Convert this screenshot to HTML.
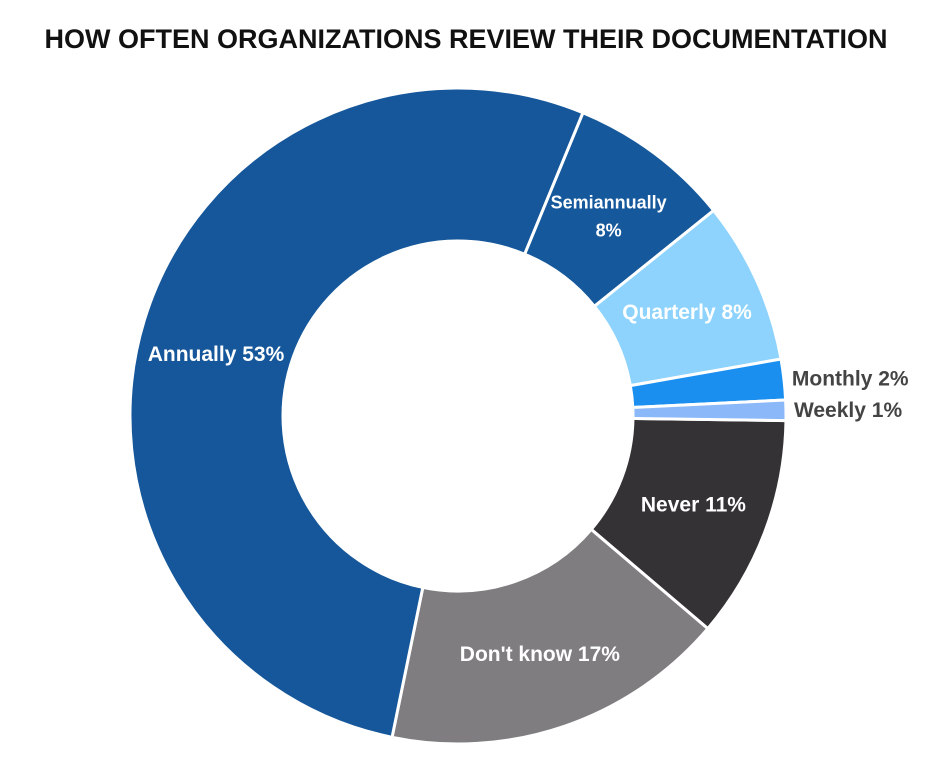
<!DOCTYPE html>
<html><head><meta charset="utf-8"><style>
body{margin:0;background:#fff;width:926px;height:766px;overflow:hidden;font-family:"Liberation Sans",sans-serif}
</style></head><body>
<svg width="926" height="766">
<text x="466" y="48" text-anchor="middle" font-size="27" font-weight="bold" fill="#111">HOW OFTEN ORGANIZATIONS REVIEW THEIR DOCUMENTATION</text>
<g id="slices"></g>
<g id="labels"></g>
</svg>
<script>
const categories=["Never","Don't know","Annually","Semiannually","Quarterly","Monthly","Weekly"];
const values=[11,17,53,8,8,2,1];
const colors=["#343235","#7f7d80","#15579a","#15589b","#8dd3fd","#1a8ff0","#8ab8f8"];
const cx=458,cy=416,R=328,r=175,start=0.8*Math.PI/180;
const ns="http://www.w3.org/2000/svg";
const g=document.getElementById('slices'),lg=document.getElementById('labels');
const total=values.reduce((a,b)=>a+b,0);
let a0=start;
function pt(rad,a){return [cx+rad*Math.cos(a),cy+rad*Math.sin(a)];}
values.forEach((v,i)=>{
 const a1=a0+v/total*2*Math.PI;
 const p1=pt(R,a0),p2=pt(R,a1),p3=pt(r,a1),p4=pt(r,a0);
 const large=(a1-a0)>Math.PI?1:0;
 const p=document.createElementNS(ns,'path');
 p.setAttribute('d',`M${p1}A${R},${R} 0 ${large} 1 ${p2}L${p3}A${r},${r} 0 ${large} 0 ${p4}Z`);
 p.setAttribute('fill',colors[i]);p.setAttribute('stroke','#fff');p.setAttribute('stroke-width','3');
 
 
 g.appendChild(p);
 const mid=(a0+a1)/2;
 const outside=v<5;
 let lines=[categories[i]+' '+v+'%'];
 let [x,y]=pt(outside?R+8:(R+r)/2,mid);
 if(categories[i]==="Semiannually"){lines=["Semiannually",v+'%'];}
 if(categories[i]==="Annually"){x=216;y=354;}
 const t=document.createElementNS(ns,'text');
 t.setAttribute('x',x);t.setAttribute('font-size','21');t.setAttribute('font-weight','bold');
 t.setAttribute('fill',outside?'#444':'#fff');
 t.setAttribute('text-anchor',outside?'start':'middle');
 
 
 if(lines.length===1){t.setAttribute('y',y+7);t.textContent=lines[0];}
 else{t.setAttribute('font-size','18');lines.forEach((s,k)=>{const ts=document.createElementNS(ns,'tspan');ts.setAttribute('x',x);ts.setAttribute('y',y-6+k*28);ts.textContent=s;t.appendChild(ts);});}
 lg.appendChild(t);
 a0=a1;
});
</script>
</body></html>
